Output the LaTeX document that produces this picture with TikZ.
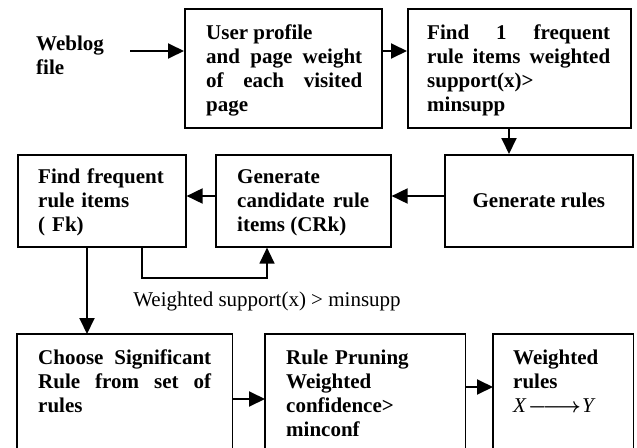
\documentclass[tikz,border=0pt]{standalone}
\usepackage{fontspec}
\setmainfont{Liberation Serif}
\usetikzlibrary{arrows.meta}
\begin{document}
\begin{tikzpicture}[x=1pt,y=-1pt,
  box/.style={draw, line width=1.6pt, inner sep=0pt, anchor=north west},
  openbox/.style={draw=none, line width=1.6pt, inner sep=0pt, anchor=north west},
  txt/.style={inner sep=0pt, anchor=north west, font=\bfseries\fontsize{21}{24}\selectfont, align=left},
  jtxt/.style={txt, align=justify},
  lbl/.style={inner sep=0pt, font=\fontsize{21}{24}\selectfont},
  arr/.style={line width=1.9pt, -{Triangle[length=16pt,width=15pt]}},
  looparr/.style={line width=1.3pt, -{Triangle[length=16pt,width=15pt]}}]
\useasboundingbox (0,0) rectangle (637,447);
% row 1
\node[txt] (weblog) at (36,33.7) {\strut Weblog\\file};
\node[box, minimum width=197pt, minimum height=119pt] (b1) at (184,8) {};
\node[jtxt, text width=156pt] (t1) at (206,22.5) {\strut User profile\\ and page weight\linebreak of each visited\linebreak page};
\node[box, minimum width=223pt, minimum height=119pt] (b2) at (407,8) {};
\node[jtxt, text width=183pt] (t2) at (427,22.5) {\strut Find 1 frequent\linebreak rule items weighted\linebreak support(x)>\\ minsupp};
% row 2
\node[box, minimum width=168pt, minimum height=92pt] (ff) at (17,154) {};
\node[txt, text width=140pt] (tff) at (38,166.5) {\strut Find frequent\\ rule items\\ ( Fk)};
\node[box, minimum width=175pt, minimum height=92pt] (cand) at (215,154) {};
\node[jtxt, text width=132pt] (tcand) at (237,166.5) {\strut Generate\\ candidate rule\linebreak items (CRk)};
\node[box, minimum width=188pt, minimum height=92pt] (gr) at (444,154) {};
\node[txt, anchor=center] (tgr) at (gr.center) {Generate rules};
% label
\node[lbl, anchor=base] (wlabel) at (267,306) {Weighted support(x) > minsupp};
% row 3 (boxes run past the lower edge)
\node[openbox, minimum width=214pt, minimum height=113pt] (ch) at (17,334) {};
\node[openbox, minimum width=199pt, minimum height=113pt] (pr) at (265,334) {};
\node[openbox, minimum width=139pt, minimum height=113pt] (wr) at (493,334) {};
\foreach \b in {ch,pr,wr}
  \draw[line width=1.6pt] (\b.south west) -- (\b.north west) -- (\b.north east) -- (\b.south east);
\node[jtxt, text width=173pt] (tch) at (38,347.5) {\strut Choose Significant\linebreak Rule from set of\linebreak rules};
\node[txt, text width=170pt] (tpr) at (286,347.5) {\strut Rule Pruning\\ Weighted\\ confidence>\\ minconf};
\node[txt, text width=110pt] (twr) at (513,347.5) {\strut Weighted\\ rules\\ {\mdseries\itshape X}\kern2pt{\boldmath$\relbar\joinrel\longrightarrow$}\kern1pt{\mdseries\itshape Y}};
% helper coordinates
\coordinate (r1) at (0,51);
\coordinate (r2) at (0,196);
\coordinate (wstart) at (130,51);
\coordinate (xA) at (509,0);
\coordinate (xL1) at (142,0);
\coordinate (xL2) at (267,0);
\coordinate (ly) at (0,278);
\coordinate (xF) at (87,0);
\coordinate (yC) at (0,399);
\coordinate (yD) at (0,387);
% connectors
\draw[arr] (wstart) -- (wstart -| b1.west);
\draw[arr] (b1.east |- r1) -- (b2.west |- r1);
\draw[arr] (b2.south -| xA) -- (gr.north -| xA);
\draw[arr] (gr.west |- r2) -- (cand.east |- r2);
\draw[arr] (cand.west |- r2) -- (ff.east |- r2);
\draw[looparr] (ff.south -| xL1) -- (xL1 |- ly) -- (xL2 |- ly) -- (cand.south -| xL2);
\draw[arr] (ff.south -| xF) -- (ch.north -| xF);
\draw[arr] (ch.east |- yC) -- (pr.west |- yC);
\draw[arr] (pr.east |- yD) -- (wr.west |- yD);
\end{tikzpicture}
\end{document}
